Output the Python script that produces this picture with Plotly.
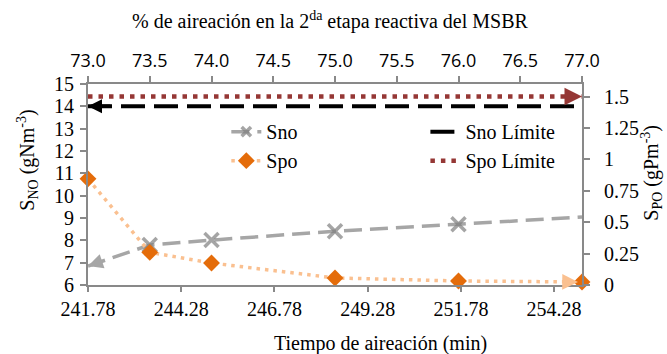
import plotly.graph_objects as go

# ---- data ----
pct = [73.0, 73.5, 74.0, 75.0, 76.0, 77.0]          # % aeration (top axis)
sno = [6.85, 7.79, 8.01, 8.41, 8.72, 9.04]          # S_NO (left axis)
spo = [0.845, 0.26, 0.175, 0.056, 0.032, 0.024]     # S_PO (right axis)
sno_limite = 14.0
spo_limite = 1.5

time_ticks = [241.78, 244.28, 246.78, 249.28, 251.78, 254.28]
time_range = [241.78, 77 * 241.78 / 73]
pct_ticks = [73.0, 73.5, 74.0, 74.5, 75.0, 75.5, 76.0, 76.5, 77.0]
y_ticks = [6, 7, 8, 9, 10, 11, 12, 13, 14, 15]
y2_ticks = [0, 0.25, 0.5, 0.75, 1, 1.25, 1.5]
y2_labels = ["0", "0.25", "0.5", "0.75", "1", "1.25", "1.5"]

SERIF = "Liberation Serif"
AX = "#898989"

fig = go.Figure()

# invisible trace so the bottom (time) axis is drawn
fig.add_trace(go.Scatter(x=time_range, y=[None, None], xaxis="x", yaxis="y",
                         mode="lines", showlegend=False, hoverinfo="skip"))

sno_sizes = [0] + [14] * (len(pct) - 2) + [0]
fig.add_trace(go.Scatter(
    x=pct, y=sno, xaxis="x2", yaxis="y", name="Sno", mode="lines+markers",
    line=dict(color="#A6A6A6", width=3.5, dash="18px,8px"),
    marker=dict(symbol="x-thin", size=sno_sizes, color="#7F7F7F",
                line=dict(color="#7F7F7F", width=3.5)),
    legend="legend", cliponaxis=False,
))
fig.add_trace(go.Scatter(
    x=pct, y=spo, xaxis="x2", yaxis="y2", name="Spo", mode="lines+markers",
    line=dict(color="#FAC090", width=3.5, dash="3.5px,5px"),
    marker=dict(symbol="diamond", size=13, color="#E46C0A"),
    legend="legend", cliponaxis=False,
))
fig.add_trace(go.Scatter(
    x=[pct[0], pct[-1]], y=[sno_limite, sno_limite], xaxis="x2", yaxis="y",
    name="Sno Límite", mode="lines",
    line=dict(color="black", width=4, dash="24px,9px"),
    legend="legend2", cliponaxis=False,
))
fig.add_trace(go.Scatter(
    x=[pct[0], pct[-1]], y=[spo_limite, spo_limite], xaxis="x2", yaxis="y2",
    name="Spo Límite", mode="lines",
    line=dict(color="#953735", width=4.5, dash="4.5px,6px"),
    legend="legend2", cliponaxis=False,
))

# arrow heads at line ends
f = 0.25
fig.add_annotation(x=pct[0], y=sno[0], xref="x2", yref="y",
                   ax=pct[0] + f * (pct[1] - pct[0]), ay=sno[0] + f * (sno[1] - sno[0]),
                   axref="x2", ayref="y", text="", showarrow=True,
                   arrowhead=2, arrowsize=0.85, arrowwidth=3.5, arrowcolor="#A6A6A6")
f2 = 0.16
fig.add_annotation(x=pct[-1], y=spo[-1], xref="x2", yref="y2",
                   ax=pct[-1] - f2 * (pct[-1] - pct[-2]), ay=spo[-1] - f2 * (spo[-1] - spo[-2]),
                   axref="x2", ayref="y2", text="", showarrow=True, standoff=4,
                   arrowhead=2, arrowsize=0.9, arrowwidth=3.5, arrowcolor="#FAC090")
fig.add_annotation(x=pct[0], y=sno_limite, xref="x2", yref="y",
                   ax=24, ay=0, text="", showarrow=True,
                   arrowhead=2, arrowsize=0.8, arrowwidth=3.5, arrowcolor="black")
fig.add_annotation(x=pct[-1], y=spo_limite, xref="x2", yref="y2",
                   ax=-17, ay=0, text="", showarrow=True,
                   arrowhead=2, arrowsize=1.0, arrowwidth=3.5, arrowcolor="#953735")

# axis titles
tf = dict(family=SERIF, size=20, color="black")
ta = dict(xref="paper", yref="paper", showarrow=False, xanchor="center", yanchor="middle", font=tf)
fig.add_annotation(x=0.49, y=1.318,
                   text="% de aireación en la 2<sup>da</sup> etapa reactiva del MSBR", **ta)
fig.add_annotation(x=0.593, y=-0.289, text="Tiempo de aireación (min)", **ta)
fig.add_annotation(x=-0.122, y=0.622, textangle=-90,
                   text="S<sub>NO</sub> (gNm<sup>-3</sup>)", **ta)
fig.add_annotation(x=1.141, y=0.557, textangle=-90,
                   text="S<sub>PO</sub> (gPm<sup>-3</sup>)", **ta)

tickfont = dict(family=SERIF, size=20, color="black")
common = dict(showgrid=False, zeroline=False, showline=True, linecolor=AX, linewidth=2,
              ticks="outside", tickcolor=AX, tickwidth=1.5, ticklen=6)

fig.update_layout(
    width=667, height=354,
    margin=dict(l=88, r=85, t=84, b=69),
    paper_bgcolor="white", plot_bgcolor="white",
    xaxis=dict(range=time_range, tickvals=time_ticks,
               ticktext=[f"{t:.2f}" for t in time_ticks], tickfont=tickfont,
               ticklen=5, ticklabelstandoff=0,
               **{k: v for k, v in common.items() if k != "ticklen"}),
    xaxis2=dict(range=[73, 77], overlaying="x", side="top", tickvals=pct_ticks,
                ticktext=[f"{p:.1f}" for p in pct_ticks],
                tickfont=dict(family="Open Sans", size=18, color="black"),
                ticklabelstandoff=2, **common),
    yaxis=dict(range=[6, 15], tickvals=y_ticks, tickfont=tickfont, ticklabelstandoff=2, **common),
    yaxis2=dict(range=[0, 1.6], overlaying="y", side="right", tickvals=y2_ticks,
                ticktext=y2_labels, tickfont=tickfont, ticklabelstandoff=10, **common),
    legend=dict(x=0.28, y=0.86, xanchor="left", yanchor="top", bgcolor="rgba(0,0,0,0)",
                font=dict(family=SERIF, size=20, color="black"), tracegroupgap=0),
    legend2=dict(x=0.683, y=0.86, xanchor="left", yanchor="top", bgcolor="rgba(0,0,0,0)",
                 font=dict(family=SERIF, size=20, color="black"), tracegroupgap=0),
    showlegend=True,
)

fig.write_html("out.html")
